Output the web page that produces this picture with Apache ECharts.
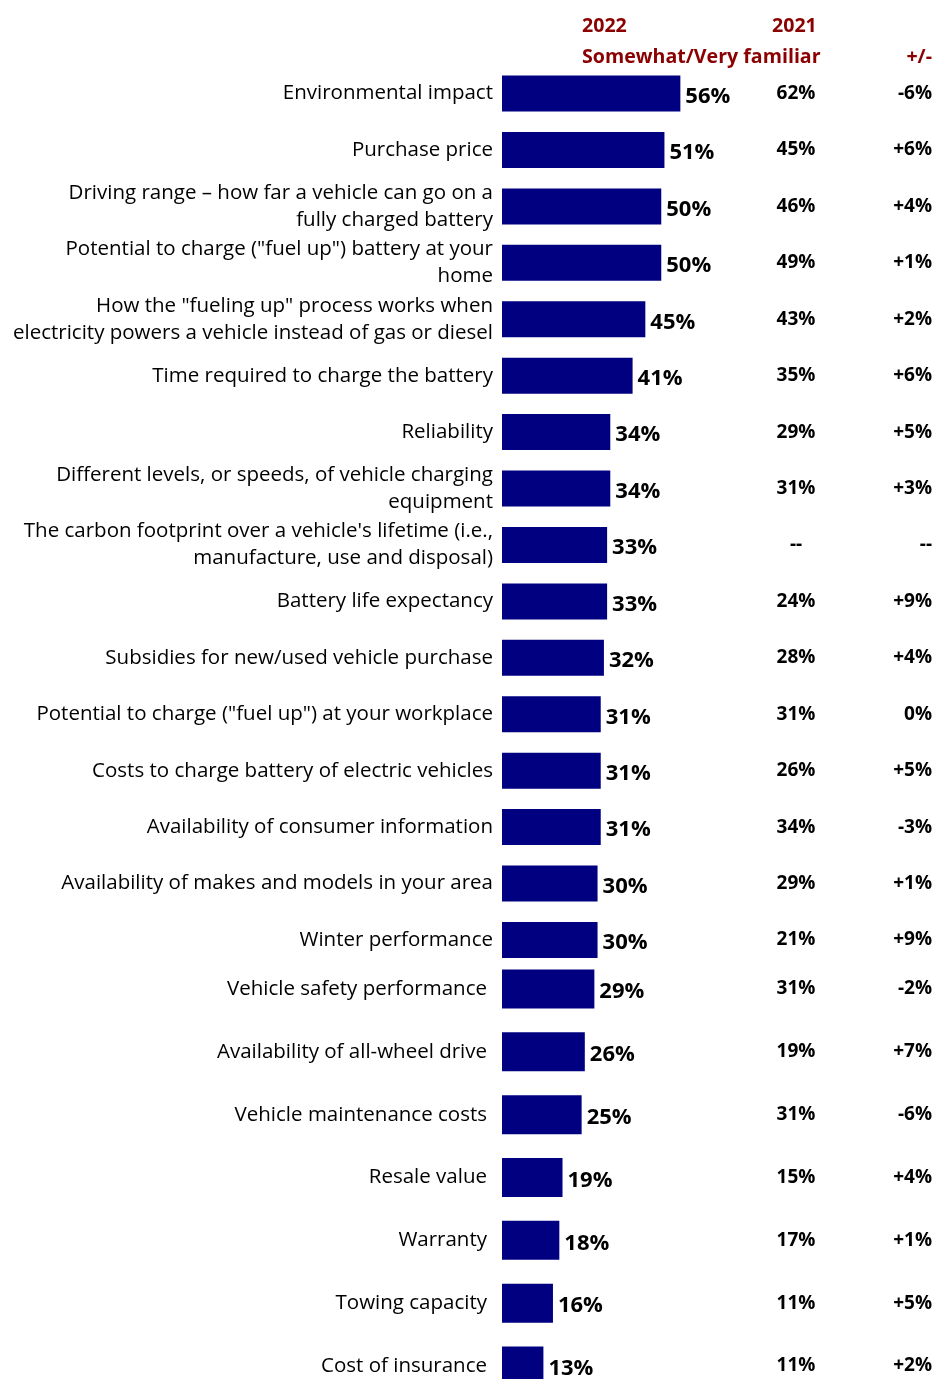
<!DOCTYPE html>
<html>
<head>
<meta charset="utf-8">
<script src="https://cdn.jsdelivr.net/npm/echarts@6/dist/echarts.min.js"></script>
<style>
  html, body { margin: 0; padding: 0; background: #ffffff; overflow: hidden; }
  /* the last row runs slightly past the bottom edge of the page */
  #chart { width: 936px; height: 1400px; }
</style>
</head>
<body>
<div id="chart"></div>
<script>
// Familiarity with electric vehicle topics, 2022 vs 2021
const categories = [
  'Environmental impact',
  'Purchase price',
  'Driving range \u2013 how far a vehicle can go on a\nfully charged battery',
  'Potential to charge ("fuel up") battery at your\nhome',
  'How the "fueling up" process works when\nelectricity powers a vehicle instead of gas or diesel',
  'Time required to charge the battery',
  'Reliability',
  'Different levels, or speeds, of vehicle charging\nequipment',
  "The carbon footprint over a vehicle's lifetime (i.e.,\nmanufacture, use and disposal)",
  'Battery life expectancy',
  'Subsidies for new/used vehicle purchase',
  'Potential to charge ("fuel up") at your workplace',
  'Costs to charge battery of electric vehicles',
  'Availability of consumer information',
  'Availability of makes and models in your area',
  'Winter performance',
  'Vehicle safety performance',
  'Availability of all-wheel drive',
  'Vehicle maintenance costs',
  'Resale value',
  'Warranty',
  'Towing capacity',
  'Cost of insurance'
];
const familiar2022 = [56, 51, 50, 50, 45, 41, 34, 34, 33, 33, 32, 31, 31, 31, 30, 30, 29, 26, 25, 19, 18, 16, 13];
const familiar2021 = ['62%', '45%', '46%', '49%', '43%', '35%', '29%', '31%', '--', '24%', '28%', '31%', '26%', '34%', '29%', '21%', '31%', '19%', '31%', '15%', '17%', '11%', '11%'];
const changeLabels = ['-6%', '+6%', '+4%', '+1%', '+2%', '+6%', '+5%', '+3%', '--', '+9%', '+4%', '0%', '+5%', '-3%', '+1%', '+9%', '-2%', '+7%', '-6%', '+4%', '+1%', '+5%', '+2%'];

// The list is drawn in two blocks with slightly different row pitch
const SPLIT = 16;
const FONT = '"Open Sans", "Noto Sans", sans-serif';
const BAR_COLOR = '#000080';
const HEAD_COLOR = '#8B0000';

const blocks = [
  { top: 65.3, height: 902.9, barWidth: 36, labelMargin: 9, from: 0, to: SPLIT },
  { top: 957.6, height: 439.8, barWidth: 39, labelMargin: 15, from: SPLIT, to: categories.length }
];

const grid = [], xAxis = [], yAxis = [], series = [];
blocks.forEach((b, gi) => {
  const cats = categories.slice(b.from, b.to);
  grid.push({ left: 502, right: 4, top: b.top, height: b.height, containLabel: false });
  xAxis.push({ gridIndex: gi, type: 'value', min: 0, max: 135, show: false });
  const base = { gridIndex: gi, type: 'category', inverse: true, axisLine: { show: false }, axisTick: { show: false }, splitLine: { show: false } };
  const y0 = yAxis.length;
  yAxis.push(Object.assign({}, base, {
    data: cats, position: 'left',
    axisLabel: { color: '#000', fontFamily: FONT, fontSize: 20.5, lineHeight: 27, margin: b.labelMargin, align: 'right', padding: [5, 0, 0, 0] }
  }));
  yAxis.push(Object.assign({}, base, {
    data: familiar2021.slice(b.from, b.to), position: 'right', offset: -136,
    axisLabel: { color: '#000', fontFamily: FONT, fontSize: 19, fontWeight: 'bold', margin: 0, align: 'center', padding: [6, 0, 0, 0] }
  }));
  yAxis.push(Object.assign({}, base, {
    data: changeLabels.slice(b.from, b.to), position: 'right', offset: 0,
    axisLabel: { color: '#000', fontFamily: FONT, fontSize: 19, fontWeight: 'bold', margin: 0, align: 'right', padding: [6, 0, 0, 0] }
  }));
  series.push({
    type: 'bar', xAxisIndex: gi, yAxisIndex: y0,
    data: familiar2022.slice(b.from, b.to),
    barWidth: b.barWidth,
    itemStyle: { color: BAR_COLOR },
    label: {
      show: true, position: 'right', distance: 5, offset: [0, 3],
      formatter: p => p.value + '%',
      color: '#000', fontFamily: FONT, fontSize: 22, fontWeight: 'bold'
    },
    silent: true, animation: false
  });
});

const headStyle = { fill: HEAD_COLOR, font: 'bold 19.6px ' + FONT };
const option = {
  backgroundColor: '#ffffff',
  animation: false,
  grid, xAxis, yAxis, series,
  graphic: [
    { type: 'text', left: 582, top: 16, style: Object.assign({ text: '2022' }, headStyle) },
    { type: 'text', left: 582, top: 47, style: Object.assign({ text: 'Somewhat/Very familiar' }, headStyle) },
    { type: 'text', left: 772, top: 16, style: Object.assign({ text: '2021' }, headStyle) },
    { type: 'text', right: 4, top: 47, style: Object.assign({ text: '+/-' }, headStyle) }
  ]
};

const chart = echarts.init(document.getElementById('chart'), null, { renderer: 'canvas' });
chart.setOption(option);
</script>
</body>
</html>
